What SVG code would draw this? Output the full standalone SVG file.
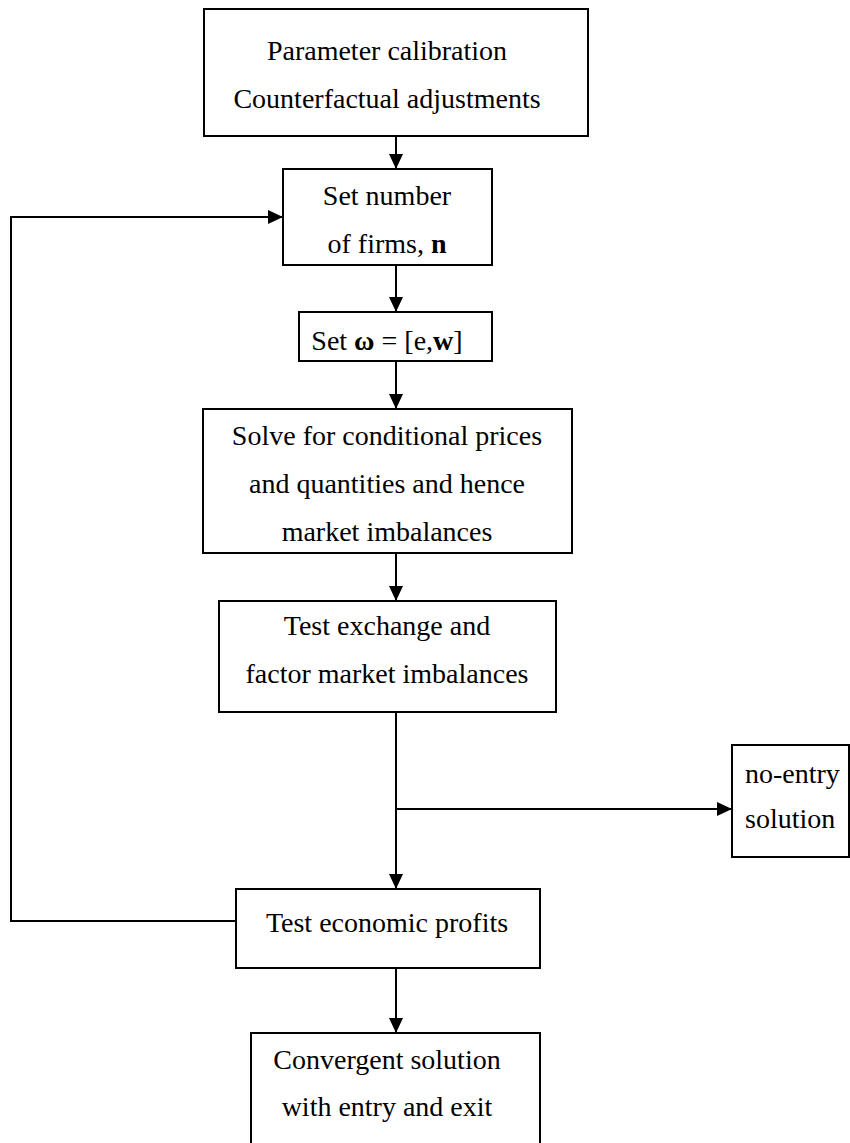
<svg xmlns="http://www.w3.org/2000/svg" width="850" height="1143" viewBox="0 0 850 1143">
<style>
.box{fill:#fff;stroke:#000;stroke-width:2}
.t{font-family:"Liberation Serif","Times New Roman",serif;font-size:28px;fill:#000;text-anchor:middle}
.l{text-anchor:start}
.c{fill:none;stroke:#000;stroke-width:2}
</style>
<defs>
<marker id="ah" markerUnits="userSpaceOnUse" markerWidth="16" markerHeight="16" refX="15" refY="7" orient="auto">
<path d="M0,0 L15,7 L0,14 z" fill="#000"/>
</marker>
</defs>
<rect width="850" height="1143" fill="#fff"/>
<g id="connectors">
<line class="c" x1="396" y1="136" x2="396" y2="169" marker-end="url(#ah)"/>
<line class="c" x1="396" y1="265" x2="396" y2="312" marker-end="url(#ah)"/>
<line class="c" x1="396" y1="361" x2="396" y2="409" marker-end="url(#ah)"/>
<line class="c" x1="396" y1="553" x2="396" y2="601" marker-end="url(#ah)"/>
<line class="c" x1="396" y1="712" x2="396" y2="889" marker-end="url(#ah)"/>
<line class="c" x1="396" y1="809" x2="732" y2="809" marker-end="url(#ah)"/>
<line class="c" x1="396" y1="968" x2="396" y2="1033" marker-end="url(#ah)"/>
<polyline class="c" points="236,921 11,921 11,217 283,217" marker-end="url(#ah)"/>
</g>
<g id="n1">
<rect class="box" x="204" y="9" width="384" height="127"/>
<text class="t" x="387" y="60">Parameter calibration</text>
<text class="t" x="387" y="108">Counterfactual adjustments</text>
</g>
<g id="n2">
<rect class="box" x="283" y="169" width="209" height="96"/>
<text class="t" x="387" y="205">Set number</text>
<text class="t" x="387" y="253">of firms, <tspan font-weight="bold">n</tspan></text>
</g>
<g id="n3">
<rect class="box" x="299" y="312" width="193" height="49"/>
<text class="t" x="387" y="350">Set <tspan font-weight="bold">ω</tspan> = [e,<tspan font-weight="bold">w</tspan>]</text>
</g>
<g id="n4">
<rect class="box" x="203" y="409" width="369" height="144"/>
<text class="t" x="387" y="445">Solve for conditional prices</text>
<text class="t" x="387" y="493">and quantities and hence</text>
<text class="t" x="387" y="541">market imbalances</text>
</g>
<g id="n5">
<rect class="box" x="219" y="601" width="337" height="111"/>
<text class="t" x="387" y="635">Test exchange and</text>
<text class="t" x="387" y="683">factor market imbalances</text>
</g>
<g id="n6">
<rect class="box" x="732" y="745" width="117" height="112"/>
<text class="t l" x="745" y="783">no-entry</text>
<text class="t l" x="745" y="828">solution</text>
</g>
<g id="n7">
<rect class="box" x="236" y="889" width="304" height="79"/>
<text class="t" x="387" y="932">Test economic profits</text>
</g>
<g id="n8">
<rect class="box" x="251" y="1033" width="289" height="120"/>
<text class="t" x="387" y="1069">Convergent solution</text>
<text class="t" x="387" y="1116">with entry and exit</text>
</g>
</svg>
